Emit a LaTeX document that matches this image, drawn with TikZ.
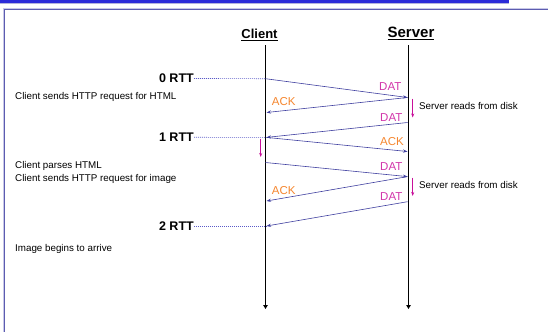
\documentclass[tikz,border=0pt]{standalone}
\usepackage{fontspec}
\setmainfont{Liberation Sans}
\usetikzlibrary{arrows.meta}
\definecolor{barblue}{HTML}{2B2BD9}
\definecolor{barshade}{HTML}{B4B4DC}
\definecolor{frameblue}{HTML}{5C5CB0}
\definecolor{frameshade}{HTML}{C8C8E8}
\definecolor{msgblue}{HTML}{3F3F9F}
\definecolor{dashblue}{HTML}{5A5AC8}
\definecolor{datmag}{HTML}{D236AA}
\definecolor{ackorange}{HTML}{F5862E}
\definecolor{procmag}{HTML}{C8109A}
\tikzset{
  lifeline/.style={line width=1.9bp,-{Triangle[length=4bp,width=4.5bp]}},
  msg/.style={draw=msgblue,line width=0.6bp,-{Stealth[length=4.5bp,width=3.2bp]}},
  rttline/.style={draw=dashblue,line width=0.65bp,dash pattern=on 1.2bp off 0.8bp},
  proc/.style={draw=procmag,line width=0.8bp,-{Stealth[length=4bp,width=3bp]}},
  note/.style={inner sep=0pt,anchor=base west,font=\fontsize{9.8bp}{11.8bp}\selectfont},
  rtt/.style={inner sep=0pt,anchor=east,font=\fontsize{12.5bp}{14bp}\selectfont\bfseries},
  datlbl/.style={inner sep=0pt,anchor=base west,text=datmag,font=\fontsize{11.5bp}{13bp}\selectfont},
  acklbl/.style={inner sep=0pt,anchor=base west,text=ackorange,font=\fontsize{11.5bp}{13bp}\selectfont},
}
\begin{document}
\begin{tikzpicture}[x=1bp,y=-1bp]
\useasboundingbox (0,0) rectangle (548,332);

% title bar and slide frame
\fill[barshade] (0,2.7) rectangle (509,4.2);
\fill[barblue] (0,0) rectangle (509,2.8);
\draw[frameshade,line width=2.2bp] (548,9.2) -- (4.2,9.2) -- (4.2,332);
\draw[frameblue,line width=0.9bp] (548,9.4) -- (4.4,9.4) -- (4.4,332);

% column headings
\node[inner sep=0pt,anchor=base,font=\fontsize{13bp}{15bp}\selectfont\bfseries] (cl) at (259.5,38.5) {\underline{Client}};
\node[inner sep=0pt,anchor=base,font=\fontsize{15bp}{17bp}\selectfont\bfseries] (sv) at (411,37.3) {\underline{Server}};

% lifelines
\coordinate (ctop) at (265.5,45);
\coordinate (cbot) at (265.5,309);
\coordinate (stop) at (408.5,45);
\coordinate (sbot) at (408.5,309);
\draw[lifeline] (ctop) -- (cbot);
\draw[lifeline] (stop) -- (sbot);

% message end points on the client and server lines
\coordinate (c1) at (265.5,78.7);
\coordinate (s1) at (407.5,97.5);
\coordinate (c2) at (266.5,112.5);
\coordinate (s2) at (407.5,122.5);
\coordinate (c3) at (266.5,137.4);
\coordinate (s3) at (407.5,151.5);
\coordinate (c4) at (265.5,162.5);
\coordinate (s4) at (407.5,176.6);
\coordinate (c5) at (266.5,201);
\coordinate (s5) at (407.5,201.7);
\coordinate (c6) at (266.5,226);

% round-trip markers
\node[rtt] (r0) at (194,78.5) {0 RTT};
\node[rtt] (r1) at (194,137.3) {1 RTT};
\node[rtt] (r2) at (194,226) {2 RTT};
\draw[rttline] (r0.east) -- (c1);
\draw[rttline] (r1.east) -- (c3);
\draw[rttline] (r2.east) -- (c6);

% messages
\draw[msg] (c1) -- (s1);
\draw[msg] (s1) -- (c2);
\draw[msg] (s2) -- (c3);
\draw[msg] (c3) -- (s3);
\draw[msg] (c4) -- (s4);
\draw[msg] (s4) -- (c5);
\draw[msg] (s5) -- (c6);

% message labels
\node[datlbl] (d1) at (379,90.7) {DAT};
\node[acklbl] (a1) at (271.7,105) {ACK};
\node[datlbl] (d2) at (380,121) {DAT};
\node[acklbl] (a2) at (380,145) {ACK};
\node[datlbl] (d3) at (380,170) {DAT};
\node[acklbl] (a3) at (271.7,194.3) {ACK};
\node[datlbl] (d4) at (380,200) {DAT};

% processing delays
\coordinate (p1a) at (412.7,98.5);
\coordinate (p1b) at (412.7,117.5);
\coordinate (p2a) at (260.7,138.5);
\coordinate (p2b) at (260.7,157);
\coordinate (p3a) at (412.7,177.5);
\coordinate (p3b) at (412.7,196);
\draw[proc] (p1a) -- (p1b);
\draw[proc] (p2a) -- (p2b);
\draw[proc] (p3a) -- (p3b);
\node[note] (sr1) at (419,109) {Server reads from disk};
\node[note] (sr2) at (419,188.3) {Server reads from disk};

% client-side notes
\node[note] (n1) at (15,99.3) {Client sends HTTP request for HTML};
\node[note] (n2) at (15,168.3) {Client parses HTML};
\node[note] (n3) at (15,181.7) {Client sends HTTP request for image};
\node[note] (n4) at (15,251.7) {Image begins to arrive};
\end{tikzpicture}
\end{document}
